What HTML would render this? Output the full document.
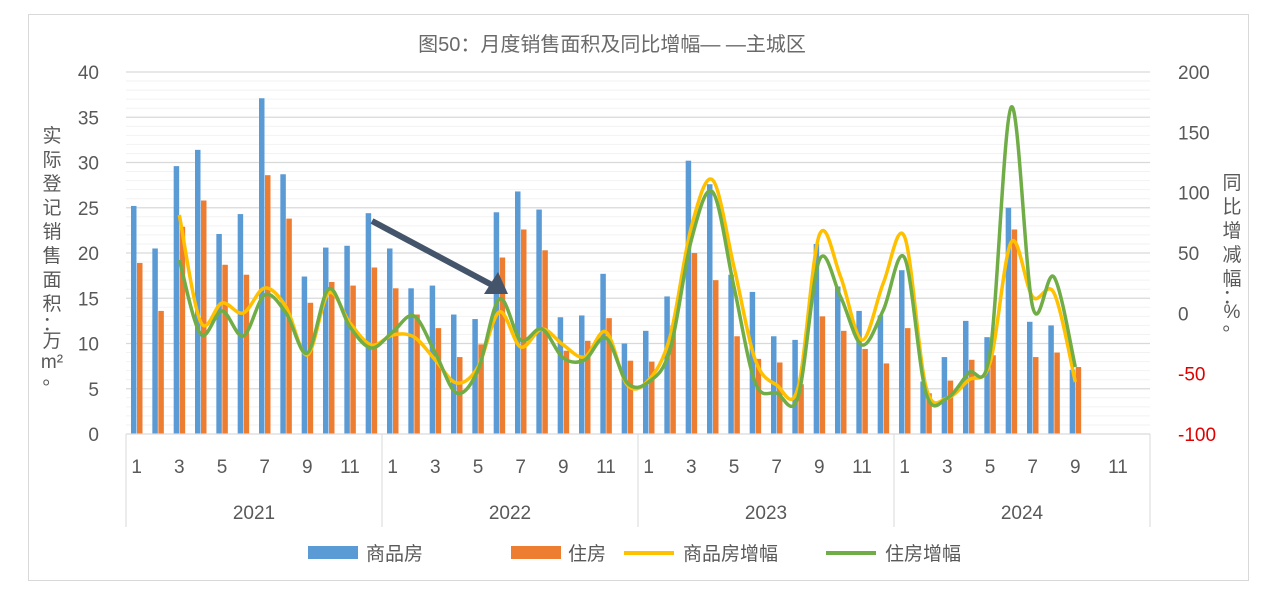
<!DOCTYPE html>
<html><head><meta charset="utf-8">
<style>
body{margin:0;background:#fff;width:1275px;height:601px;overflow:hidden;font-family:"Liberation Sans","Noto Sans CJK SC",sans-serif;}
</style></head><body>
<svg id="s" width="1275" height="601" xmlns="http://www.w3.org/2000/svg" font-family="Liberation Sans, Noto Sans CJK SC, sans-serif">
<rect x="28.5" y="14.5" width="1220" height="566" fill="#fff" stroke="#d9d9d9"/>
<g id="grid"></g><g id="bars"></g><g id="lines"></g><g id="ax"></g>
<text x="612" y="51" font-size="20" fill="#6a6a6a" text-anchor="middle">图50：月度销售面积及同比增幅— —主城区</text>
<g font-size="19" fill="#595959" text-anchor="middle">
<text x="52" y="142">实</text><text x="52" y="166">际</text><text x="52" y="190">登</text><text x="52" y="214">记</text><text x="52" y="238">销</text><text x="52" y="262">售</text><text x="52" y="286">面</text><text x="52" y="310">积</text><text x="52" y="330">：</text><text x="52" y="347">万</text><text x="52" y="368">m²</text><text x="52" y="384">。</text>
<text x="1232" y="189">同</text><text x="1232" y="213">比</text><text x="1232" y="237">增</text><text x="1232" y="261">减</text><text x="1232" y="285">幅</text><text x="1232" y="303">：</text><text x="1232" y="318">%</text><text x="1232" y="330">。</text>
</g>
<g font-size="19" fill="#595959">
<rect x="308" y="546" width="50" height="13" fill="#5b9bd5"/><text x="366" y="560">商品房</text>
<rect x="511" y="546" width="50" height="13" fill="#ed7d31"/><text x="568" y="560">住房</text>
<line x1="624" y1="553" x2="674" y2="553" stroke="#ffc000" stroke-width="4"/><text x="683" y="560">商品房增幅</text>
<line x1="826" y1="553" x2="876" y2="553" stroke="#70ad47" stroke-width="4"/><text x="885" y="560">住房增幅</text>
</g>
<line x1="372" y1="221" x2="492" y2="285" stroke="#44546a" stroke-width="6"/>
<polygon points="508,294 484,294 498,272" fill="#44546a"/>
</svg>
<script>
const NS="http://www.w3.org/2000/svg";
function el(p,t,a,txt){const e=document.createElementNS(NS,t);for(const k in a)e.setAttribute(k,a[k]);if(txt!==undefined)e.textContent=txt;document.getElementById(p).appendChild(e);return e;}
const X0=126,X1=1150,Y0=434,Y1=72,cw=(X1-X0)/48;
const yv=v=>Y0-v*(Y0-Y1)/40;
for(let v=1;v<=40;v++){el('grid','line',{x1:X0,x2:X1,y1:yv(v),y2:yv(v),stroke:v%5?'#f2f2f2':'#d9d9d9','stroke-width':v%5?1:1.3});}
const blue=[25.2,20.5,29.6,31.4,22.1,24.3,37.1,28.7,17.4,20.6,20.8,24.4,20.5,16.1,16.4,13.2,12.7,24.5,26.8,24.8,12.9,13.1,17.7,10.0,11.4,15.2,30.2,27.6,17.6,15.7,10.8,10.4,21.0,16.3,13.6,13.1,18.1,5.8,8.5,12.5,10.7,25.0,12.4,12.0,7.1];
const org=[18.9,13.6,22.9,25.8,18.7,17.6,28.6,23.8,14.5,16.8,16.4,18.4,16.1,13.2,11.7,8.5,9.9,19.5,22.6,20.3,9.2,10.3,12.8,8.1,8.0,12.0,20.0,17.0,10.8,8.3,7.9,5.5,13.0,11.4,9.4,7.8,11.7,4.5,5.9,8.2,8.7,22.6,8.5,9.0,7.4];
blue.forEach((v,i)=>{const x=X0+i*cw+5;el('bars','rect',{x:x,y:yv(v),width:5.5,height:Y0-yv(v),fill:'#5b9bd5'});});
org.forEach((v,i)=>{const x=X0+i*cw+11;el('bars','rect',{x:x,y:yv(v),width:5.5,height:Y0-yv(v),fill:'#ed7d31'});});
const yel=[215,322,303,313,288,307,355,293,323,345,335,337,360,383,367,312,347,329,345,357,332,385,380,337,227,180,267,360,385,388,235,277,340,283,237,387,398,380,363,242,297,293,382];
const grn=[260,334,311,336,295,313,353,289,327,348,332,316,353,393,370,299,340,329,358,360,338,383,382,350,240,192,287,383,393,397,260,297,345,310,258,393,398,373,353,107,307,277,367];
function path(ys,col){const p=ys.map((y,i)=>[X0+(i+2.5)*cw,y]);let d='M'+p[0];for(let i=0;i<p.length-1;i++){const a=p[Math.max(i-1,0)],b=p[i],c=p[i+1],e=p[Math.min(i+2,p.length-1)];const c1=[b[0]+(c[0]-a[0])/6,b[1]+(c[1]-a[1])/6],c2=[c[0]-(e[0]-b[0])/6,c[1]-(e[1]-b[1])/6];d+=' C'+c1+' '+c2+' '+c;}el('lines','path',{d:d,fill:'none',stroke:col,'stroke-width':3.5,'stroke-linejoin':'round'});}
path(yel,'#ffc000');path(grn,'#70ad47');
el('ax','line',{x1:X0,x2:X1,y1:Y0,y2:Y0,stroke:'#d9d9d9','stroke-width':1.3});
for(let g=0;g<=4;g++){const x=X0+g*12*cw;el('ax','line',{x1:x,x2:x,y1:Y0,y2:527,stroke:'#d9d9d9'});}
for(let v=0;v<=40;v+=5)el('ax','text',{x:99,y:yv(v)+7,'font-size':19,fill:'#595959','text-anchor':'end'},v);
for(let v=-100;v<=200;v+=50){const y=Y0-(v+100)*(Y0-Y1)/300;el('ax','text',{x:1178,y:y+7,'font-size':19,fill:v<0?'#e00000':'#595959'},v);}
for(let i=0;i<48;i+=2)el('ax','text',{x:X0+(i+0.5)*cw,y:473,'font-size':19,fill:'#595959','text-anchor':'middle'},(i%12)+1);
['2021','2022','2023','2024'].forEach((t,g)=>el('ax','text',{x:X0+(g*12+6)*cw,y:519,'font-size':19,fill:'#595959','text-anchor':'middle'},t));
</script>
</body></html>
